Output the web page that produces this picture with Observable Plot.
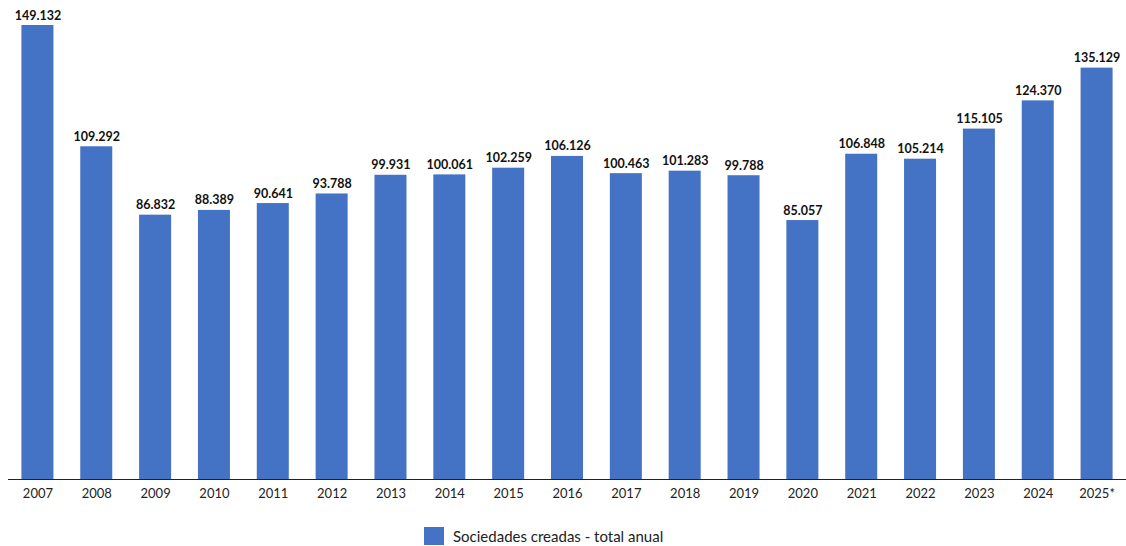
<!DOCTYPE html>
<html>
<head>
<meta charset="utf-8">
<script src="https://cdn.jsdelivr.net/npm/d3@7"></script>
<script src="https://cdn.jsdelivr.net/npm/@observablehq/plot@0.6"></script>
<style>
  html, body { margin: 0; padding: 0; background: #fff; }
  #wrap { position: relative; width: 1126px; height: 546px; overflow: hidden; }
  #legend { position: absolute; left: 424px; top: 527px; display: flex; align-items: center;
            font-family: Lato, "Open Sans", sans-serif; font-size: 15px; color: #222; }
  #legend .sw { width: 20px; height: 18px; background: #4472C4; margin-right: 9px; }
</style>
</head>
<body>
<div id="wrap">
  <div id="chart"></div>
  <div id="legend"><div class="sw"></div><span>Sociedades creadas - total anual</span></div>
</div>
<script>
const years = ["2007","2008","2009","2010","2011","2012","2013","2014","2015","2016","2017","2018","2019","2020","2021","2022","2023","2024","2025*"];
const sociedades = [149132,109292,86832,88389,90641,93788,99931,100061,102259,106126,100463,101283,99788,85057,106848,105214,115105,124370,135129];
const seriesName = "Sociedades creadas - total anual";

const data = years.map((y, i) => ({year: y, value: sociedades[i]}));
const es = d3.formatLocale({decimal: ",", thousands: ".", grouping: [3], currency: ["", " €"]});
const fmt = es.format(",");

const chart = Plot.plot({
  width: 1126,
  height: 515,
  marginTop: 25,
  marginBottom: 36,
  marginLeft: 8,
  marginRight: 0,
  style: {fontFamily: "Lato, 'Open Sans', sans-serif", background: "#fff"},
  x: {domain: years, paddingInner: 0.456, paddingOuter: 0.228, round: false, label: null, tickSize: 0},
  y: {domain: [0, 149132], axis: null},
  marks: [
    Plot.barY(data, {x: "year", y: "value", fill: "#4472C4"}),
    Plot.ruleY([0], {stroke: "#222", strokeWidth: 1}),
    Plot.text(data, {x: "year", y: "value", text: d => fmt(d.value), dy: -10,
      fontWeight: "bold", fontSize: 12.5, fill: "#111"}),
    Plot.axisX({tickSize: 0, tickPadding: 9, fontSize: 13, color: "#222", label: null})
  ]
});
document.getElementById("chart").appendChild(chart);
</script>
</body>
</html>
